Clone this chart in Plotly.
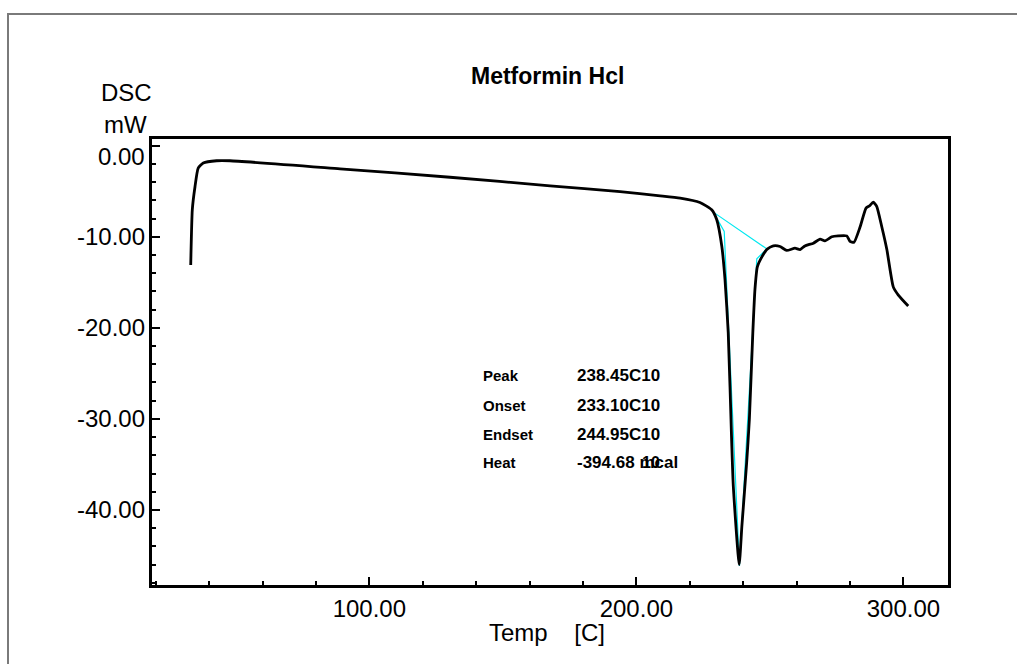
import plotly.graph_objects as go

# ---- data ----
temp = [33.1, 33.7, 34.7, 35.9, 37.8, 42.8, 47.8, 89.0, 130.2, 167.7, 193.9, 208.9,
        216.4, 223.8, 228.2, 230.1, 232.0, 233.2, 234.4, 235.7, 236.3, 238.5,
        239.5, 241.3, 242.3, 243.6, 244.4, 245.3, 247.0, 249.0, 251.3, 253.8,
        256.3, 259.4, 261.3, 263.1, 266.3, 268.8, 270.6, 273.2, 275.6, 278.8,
        280.0, 281.5, 283.8, 286.0, 287.3, 288.7, 290.0, 291.9, 293.8, 296.2,
        298.1, 301.8]
dsc = [-13.1, -7.0, -4.5, -2.45, -1.9, -1.65, -1.65, -2.53, -3.46, -4.4, -5.05, -5.5,
       -5.75, -6.23, -7.03, -8.13, -11.07, -14.73, -20.55, -32.6, -37.4, -46.0,
       -41.8, -34.8, -30.1, -20.55, -15.8, -13.3, -12.2, -11.35, -11.0, -11.07,
       -11.5, -11.25, -11.4, -11.0, -10.7, -10.25, -10.45, -10.0, -9.9, -9.9,
       -10.5, -10.6, -8.9, -6.85, -6.6, -6.2, -6.65, -8.9, -11.4, -15.5,
       -16.4, -17.6]

# peak analysis construction (baseline + tangents)
cyan_t = [228.8, 232.9, 238.6, 245.1, 248.8, 228.8]
cyan_v = [-7.29, -9.42, -46.15, -12.42, -11.32, -7.29]

x_tickvals = [100, 200, 300]
x_ticktext = ["100.00", "200.00", "300.00"]
y_tickvals = [0, -10, -20, -30, -40]
y_ticktext = ["0.00", "-10.00", "-20.00", "-30.00", "-40.00"]

labels = ["Peak", "Onset", "Endset", "Heat"]
values = ["238.45C10", "233.10C10", "244.95C10", "-394.68 mcal"]

FONT = "Liberation Sans, Arial, sans-serif"

# plot area in pixels
PL, PR, PT, PB = 152, 948, 139, 585
W, H = 1017, 664
YMIN, YMAX = -48.24, 0.74


def px(x):
    return (x - PL) / (PR - PL)


def py(y):
    return (PB - y) / (PB - PT)


fig = go.Figure()
fig.add_trace(go.Scatter(x=cyan_t, y=cyan_v, mode="lines",
                         line=dict(color="#00e8f0", width=1.2),
                         showlegend=False, hoverinfo="skip"))
fig.add_trace(go.Scatter(x=temp, y=dsc, mode="lines",
                         line=dict(color="black", width=2.8, shape="spline", smoothing=0.5),
                         showlegend=False))

axis_common = dict(showline=True, linecolor="black", linewidth=2.5, mirror=True,
                   showgrid=False, zeroline=False, ticks="inside", tickcolor="black",
                   tickwidth=2, ticklen=8,
                   tickfont=dict(family=FONT, size=24, color="black"))

fig.update_xaxes(range=[18.6, 316.7], tickmode="array", tickvals=x_tickvals,
                 ticktext=x_ticktext,
                 minor=dict(tickmode="linear", tick0=0, dtick=20, ticks="inside",
                            ticklen=4, tickwidth=2, tickcolor="black"),
                 **axis_common)
fig.update_yaxes(range=[YMIN, YMAX], tickmode="array", tickvals=y_tickvals,
                 ticktext=y_ticktext, showticklabels=False,
                 minor=dict(tickmode="linear", tick0=0, dtick=2, ticks="inside",
                            ticklen=4, tickwidth=2, tickcolor="black"),
                 **axis_common)

ann = []
# y tick labels (the top one sits slightly below its tick, as in the reference)
for v, t in zip(y_tickvals, y_ticktext):
    yp = (v - YMIN) / (YMAX - YMIN)
    if v == y_tickvals[0]:
        yp = py(156)
    ann.append(dict(text=t, x=px(147), y=yp, xref="paper", yref="paper",
                    showarrow=False, xanchor="right", yanchor="middle",
                    font=dict(family=FONT, size=24, color="black")))

ann.append(dict(text="<b>Metformin Hcl</b>", x=px(547), y=py(76), xref="paper", yref="paper",
                showarrow=False, xanchor="center", yanchor="middle",
                font=dict(family=FONT, size=23, color="black")))
ann.append(dict(text="DSC", x=px(126), y=py(92), xref="paper", yref="paper",
                showarrow=False, xanchor="center", yanchor="middle",
                font=dict(family=FONT, size=24, color="black")))
ann.append(dict(text="mW", x=px(125), y=py(124), xref="paper", yref="paper",
                showarrow=False, xanchor="center", yanchor="middle",
                font=dict(family=FONT, size=24, color="black")))
ann.append(dict(text="Temp    [C]", x=px(547), y=py(632), xref="paper", yref="paper",
                showarrow=False, xanchor="center", yanchor="middle",
                font=dict(family=FONT, size=24, color="black")))

rows_y = [375, 405, 434, 462]
for lab, val, ry in zip(labels, values, rows_y):
    ann.append(dict(text="<b>%s</b>" % lab, x=px(481), y=py(ry), xref="paper", yref="paper",
                    showarrow=False, xanchor="left", yanchor="middle",
                    font=dict(family=FONT, size=15, color="black")))
    ann.append(dict(text="<b>%s</b>" % val, x=px(575), y=py(ry), xref="paper", yref="paper",
                    showarrow=False, xanchor="left", yanchor="middle",
                    font=dict(family=FONT, size=17, color="black")))
# overprinted "10" on the heat line, as in the reference
ann.append(dict(text="<b>10</b>", x=px(640), y=py(rows_y[-1]), xref="paper", yref="paper",
                showarrow=False, xanchor="left", yanchor="middle",
                font=dict(family=FONT, size=16, color="black")))

shapes = [dict(type="rect", xref="paper", yref="paper",
               x0=px(8), x1=px(1030), y0=py(680), y1=py(14),
               line=dict(color="#7a7a7a", width=2), fillcolor="rgba(0,0,0,0)")]

fig.update_layout(width=W, height=H, autosize=False,
                  margin=dict(l=PL, r=W - PR, t=PT, b=H - PB, pad=0),
                  paper_bgcolor="white", plot_bgcolor="white",
                  annotations=ann, shapes=shapes,
                  font=dict(family=FONT, color="black"))

fig.write_html("out.html")
